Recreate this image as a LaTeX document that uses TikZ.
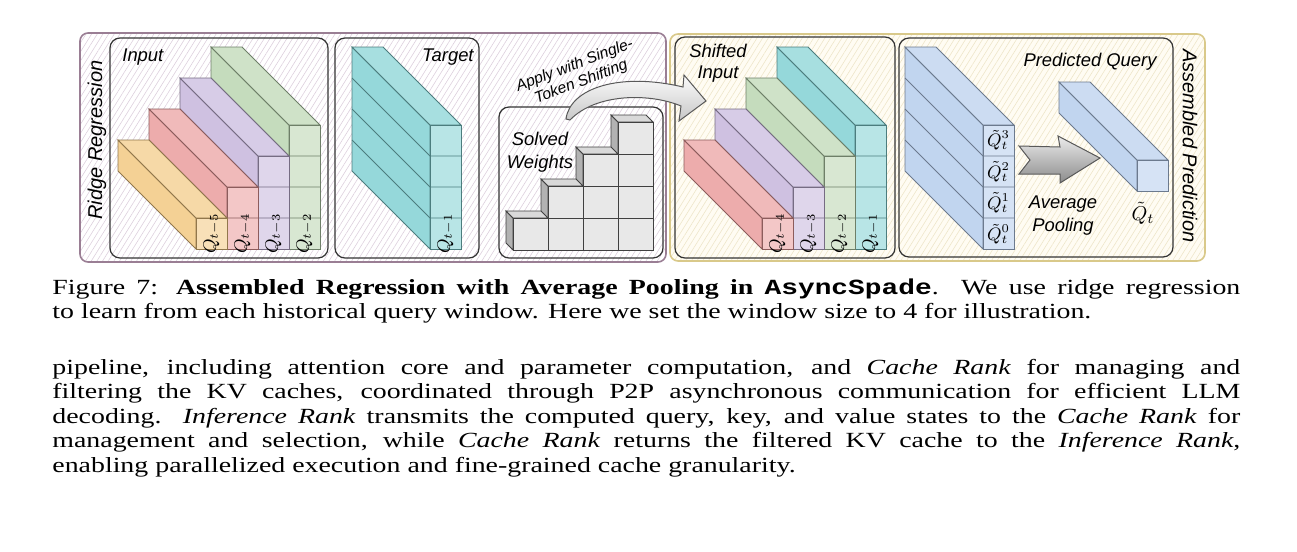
\documentclass[tikz,border=0pt]{standalone}
\usepackage{fontspec}
\setmainfont{Liberation Serif}[FakeStretch=1.29]
\setmonofont{Liberation Mono}[FakeStretch=1.29]
\newfontfamily\tagfont{Liberation Sans}
\usetikzlibrary{patterns.meta}

\definecolor{barorange}{HTML}{F2C77E}
\definecolor{barred}{HTML}{E99A9A}
\definecolor{barpurple}{HTML}{C4B4DB}
\definecolor{bargreen}{HTML}{B8D4AE}
\definecolor{barteal}{HTML}{7ED0D2}
\definecolor{barblue}{HTML}{B4CCEC}
\definecolor{ridgeline}{HTML}{9A7E94}
\definecolor{ridgehatch}{HTML}{DDD0DD}
\definecolor{predline}{HTML}{D9C98A}
\definecolor{predhatch}{HTML}{EEE6CA}
\definecolor{predfill}{HTML}{FFFCF3}

\begin{document}
\begin{tikzpicture}[x=0.5pt, y=-0.5pt,
  every node/.append style={inner sep=0pt},
  group/.style={line width=0.8pt, rounded corners=4pt},
  hatch/.style={pattern={Lines[angle=58,distance=2.4pt,line width=0.3pt]}},
  panel/.style={draw=black!80, line width=0.6pt, rounded corners=5pt},
  face/.style={line width=0.45pt},
  cube/.style={draw=black!75, line width=0.45pt},
  tag/.style={font=\tagfont\itshape\fontsize{9.2}{11.5}\selectfont, align=center},
  side tag/.style={font=\tagfont\itshape\fontsize{10}{12}\selectfont},
  qlab/.style={font=\fontsize{9}{10}\selectfont},
  prose/.style={text width=594pt, align=justify, font=\fontsize{10.8}{12}\selectfont},
]
  \useasboundingbox (0,0) rectangle (1297,552);

  % groups
  \draw[group, draw=ridgeline, hatch, pattern color=ridgehatch] (80,33) rectangle (666,262);
  \draw[group, draw=predline, preaction={fill=predfill}, hatch, pattern color=predhatch] (670,34) rectangle (1205,261);

  % panels
  \draw[panel] (110,38) rectangle (328,258);
  \draw[panel] (335,38) rectangle (479,258);
  \draw[panel] (499,107) rectangle (663,258);
  \draw[panel] (675,37) rectangle (895,258);
  \draw[panel] (899,38) rectangle (1173,257);

  % query bars, tallest first
  \foreach \x/\y/\n/\c in {289/249/4/bargreen, 258/249/3/barpurple, 227/249/2/barred, 196/249/1/barorange,
      430/249/4/barteal,
      855/249/4/barteal, 824/249/3/bargreen, 793/249/2/barpurple, 762/249/1/barred,
      983/249/4/barblue, 1137/191/1/barblue} {
    \pgfmathsetmacro\yt{\y-31*\n}
    \draw[face, draw=\c!60!black, fill=\c!82!white] (\x,\yt) -- (\x,\y) -- (\x-78,\y-78) -- (\x-78,\yt-78) -- cycle;
    \draw[face, draw=\c!60!black, fill=\c!68!white] (\x,\yt) -- (\x+31,\yt) -- (\x-47,\yt-78) -- (\x-78,\yt-78) -- cycle;
    \draw[face, draw=\c!60!black, fill=\c!55!white] (\x,\yt) rectangle (\x+31,\y);
    \ifnum\n>1
      \foreach \k in {2,...,\n}
        \draw[face, draw=\c!60!black] (\x-78,\y-31*\k-47) -- (\x,\y-31*\k+31) -- (\x+31,\y-31*\k+31);
    \fi
  }

  % solved weights
  \foreach \i in {4,3,2,1} {
    \pgfmathsetmacro\cx{513+35*(\i-1)}
    \pgfmathsetmacro\ct{250-32*\i}
    \draw[cube, fill=black!30] (\cx,\ct) -- (\cx,250) -- (\cx-7,243) -- (\cx-7,\ct-7) -- cycle;
    \draw[cube, fill=black!15] (\cx,\ct) -- (\cx+35,\ct) -- (\cx+28,\ct-7) -- (\cx-7,\ct-7) -- cycle;
    \foreach \j in {1,...,\i}
      \draw[cube, fill=black!9] (\cx,250-32*\j) rectangle (\cx+35,282-32*\j);
  }

  % arrows
  \draw[draw=black!65, line width=0.5pt, top color=white, bottom color=black!22]
    (566,119) .. controls (570,88) and (620,72) .. (683,87) -- (684,75) -- (706,101)
    -- (679,121) -- (681,106) .. controls (650,93) and (596,93) .. (570,120) -- cycle;
  \draw[draw=black!65, line width=0.5pt, top color=black!8, bottom color=black!45]
    (1019,146) -- (1060,147) -- (1058,136) -- (1100,158) -- (1060,183) -- (1060,174)
    -- (1019,174) -- (1030,160) -- cycle;

  % labels
  \node[side tag, rotate=90] (ridge) at (97,140) {Ridge Regression};
  \node[side tag, rotate=-90] (assembled) at (1190,146) {Assembled Prediction};
  \node[tag, anchor=west] (input) at (122,57) {Input};
  \node[tag, anchor=east] (target) at (474,57) {Target};
  \node[tag] (solved) at (540,152) {Solved\\Weights};
  \node[tag, font=\tagfont\itshape\fontsize{7.8}{9}\selectfont, rotate=21] (apply) at (578,74) {Apply with Single-\\Token Shifting};
  \node[tag, font=\tagfont\itshape\fontsize{9.2}{10.5}\selectfont] (shifted) at (718,63) {Shifted\\Input};
  \node[tag] (predq) at (1090,62) {Predicted Query};
  \node[tag] (avgpool) at (1063,216) {Average\\Pooling};

  \foreach \x/\k in {211.5/5, 242.5/4, 273.5/3, 304.5/2}
    \node[qlab, rotate=90] (qin\k) at (\x,233.5) {$Q_{t-\k}$};
  \node[qlab, rotate=90] (qtarget) at (445.5,233.5) {$Q_{t-1}$};
  \foreach \x/\k in {777.5/4, 808.5/3, 839.5/2, 870.5/1}
    \node[qlab, rotate=90] (qsh\k) at (\x,233.5) {$Q_{t-\k}$};
  \foreach \k/\y in {3/140, 2/171.5, 1/202.5, 0/234}
    \node[qlab] (qhat\k) at (998.5,\y) {$\tilde{Q}_t^{\k}$};
  \node[qlab, font=\fontsize{10}{11}\selectfont] (qhat) at (1143,213) {$\tilde{Q}_t$};

  % caption and text
  \node[prose, anchor=base west] (caption) at (52,294) {Figure 7: \textbf{Assembled Regression with Average Pooling in \texttt{AsyncSpade}}. We use ridge regression\linebreak to learn from each historical query window. Here we set the window size to 4 for illustration.};
  \node[prose, anchor=base west, font=\fontsize{10.8}{12.25}\selectfont] (body) at (52,374) {pipeline, including attention core and parameter computation, and \textit{Cache Rank} for managing and\linebreak filtering the KV caches, coordinated through P2P asynchronous communication for efficient LLM\linebreak decoding. \textit{Inference Rank} transmits the computed query, key, and value states to the \textit{Cache Rank} for\linebreak management and selection, while \textit{Cache Rank} returns the filtered KV cache to the \textit{Inference Rank},\linebreak enabling parallelized execution and fine-grained cache granularity.};
\end{tikzpicture}
\end{document}
